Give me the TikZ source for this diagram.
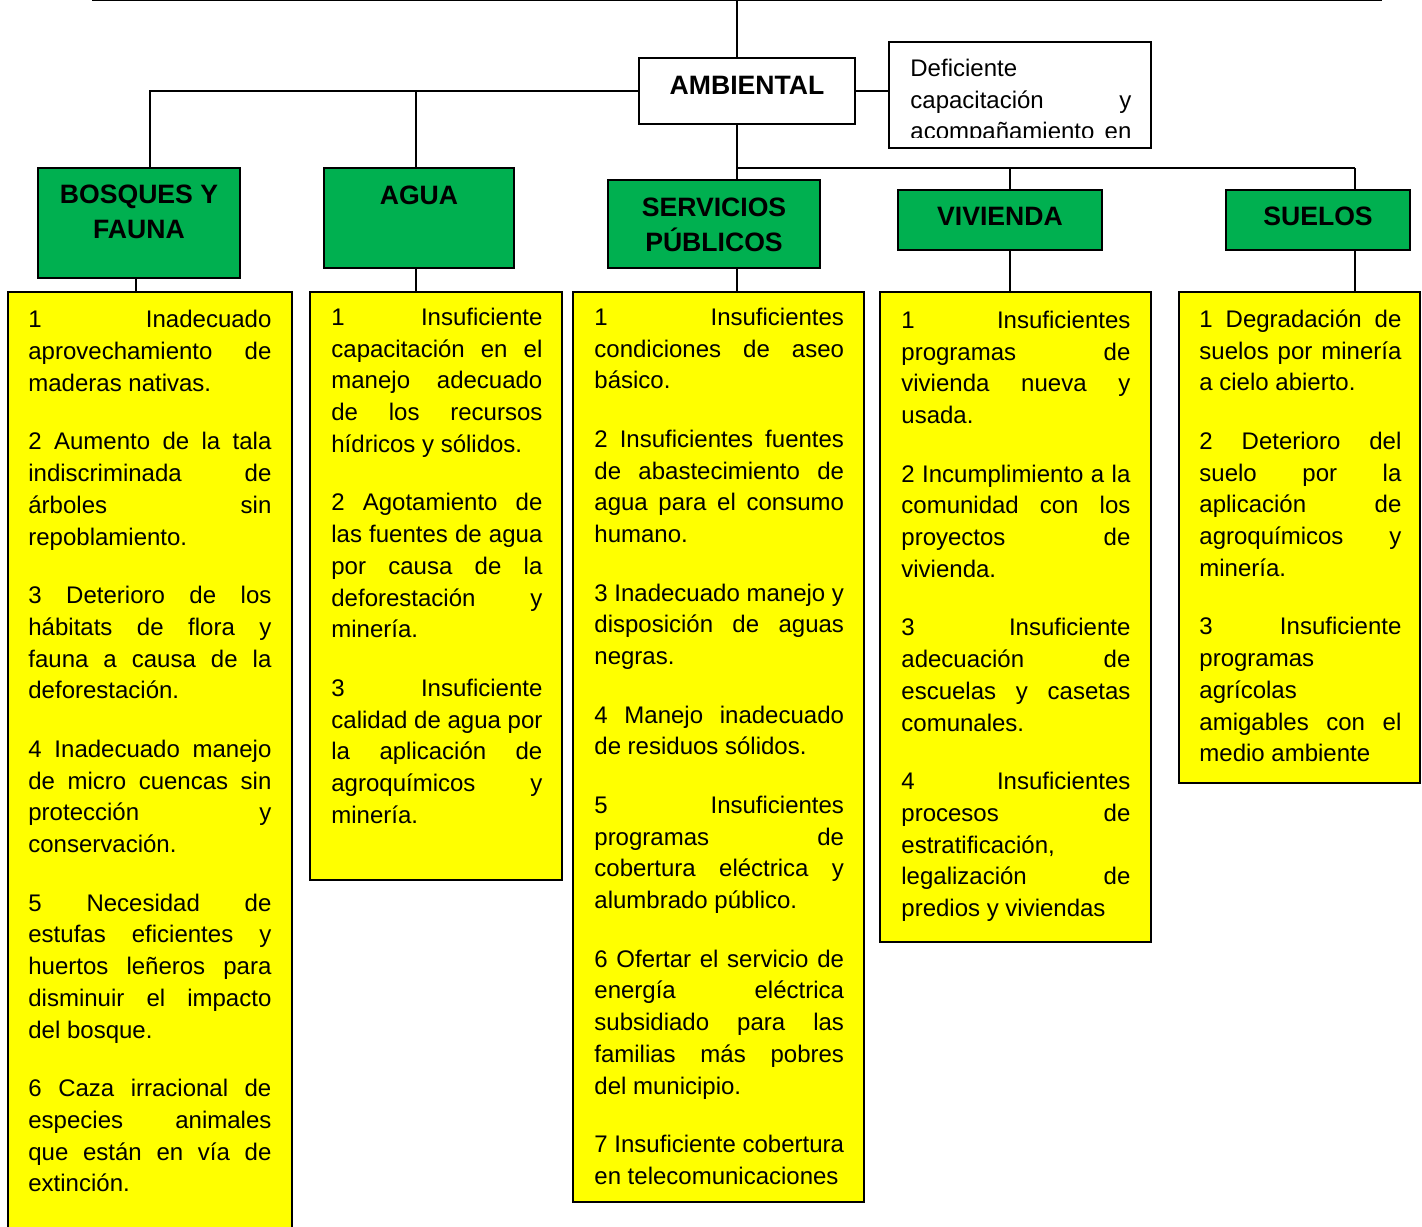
\documentclass[tikz,border=0pt]{standalone}
\usepackage{fontspec}
\setmainfont{Liberation Sans}
\usetikzlibrary{positioning}
\definecolor{verde}{RGB}{0,176,80}
\definecolor{amarillo}{RGB}{255,255,0}
\setlength{\parindent}{0pt}
\tolerance=10000 \hbadness=10000
\hyphenpenalty=10000 \exhyphenpenalty=10000
\begin{document}
\begin{tikzpicture}[x=0.5pt, y=-0.5pt,
	cuadro/.style={draw, line width=1pt, outer sep=0pt, inner sep=0pt, anchor=north west},
	tema/.style={cuadro, fill=verde},
	lista/.style={cuadro, fill=amarillo},
	titulo/.style={inner sep=0pt, align=center, font=\bfseries\fontsize{13.3}{17.5}\selectfont},
	texto/.style={inner sep=0pt, align=justify, font=\fontsize{12}{15.875}\selectfont},
	enlace/.style={line width=0.7pt}]
	\useasboundingbox (0,0) rectangle (1422,1226);

	% cajas
	\node[cuadro, minimum width=108pt, minimum height=33pt] (amb) at (639,58) {};
	\node[cuadro, minimum width=131pt, minimum height=53pt] (def) at (889,42) {};
	\node[tema, minimum width=101pt, minimum height=55pt] (bosq) at (38,168) {};
	\node[tema, minimum width=95pt, minimum height=50pt] (agua) at (324,168) {};
	\node[tema, minimum width=106pt, minimum height=44pt] (serv) at (608,180) {};
	\node[tema, minimum width=102pt, minimum height=30pt] (viv) at (898,190) {};
	\node[tema, minimum width=92pt, minimum height=30pt] (suel) at (1226,190) {};
	\node[lista, minimum width=142pt, minimum height=474pt] (bosqL) at (8,292) {};
	\node[lista, minimum width=126pt, minimum height=294pt] (aguaL) at (310,292) {};
	\node[lista, minimum width=145.5pt, minimum height=455pt] (servL) at (573,292) {};
	\node[lista, minimum width=135.5pt, minimum height=325pt] (vivL) at (880,292) {};
	\node[lista, minimum width=120.5pt, minimum height=245.5pt] (suelL) at (1179,292) {};

	% titulos
	\node[titulo, below=5.9pt of amb.north] (ambT) {\strut AMBIENTAL};
	\node[titulo, below=5.4pt of bosq.north] (bosqT) {\strut BOSQUES Y\\FAUNA};
	\node[titulo, below=5.75pt of agua.north] (aguaT) {\strut AGUA};
	\node[titulo, below=5.75pt of serv.north] (servT) {\strut SERVICIOS\\PÚBLICOS};
	\node[titulo, below=5.25pt of viv.north] (vivT) {\strut VIVIENDA};
	\node[titulo, below=5.25pt of suel.north] (suelT) {\strut SUELOS};

	\begin{scope}
	\clip (def.north west) rectangle ([yshift=5.5pt]def.south east);
	\node[texto, text width=110.5pt, below right=5.9pt and 10.5pt of def.north west] (defX) {\strut Deficiente\linebreak capacitación y\linebreak acompañamiento en\linebreak\mbox{}};
	\end{scope}

	% listas
	\node[texto, text width=121.5pt, below right=6.65pt and 10pt of bosqL.north west] (bosqX) {\strut
		1 Inadecuado\linebreak aprovechamiento de\linebreak maderas nativas.\\[13.375pt]
		2 Aumento de la tala\linebreak indiscriminada de\linebreak árboles sin\linebreak repoblamiento.\\[13.375pt]
		3 Deterioro de los\linebreak hábitats de flora y\linebreak fauna a causa de la\linebreak deforestación.\\[13.375pt]
		4 Inadecuado manejo\linebreak de micro cuencas sin\linebreak protección y\linebreak conservación.\\[13.375pt]
		5 Necesidad de\linebreak estufas eficientes y\linebreak huertos leñeros para\linebreak disminuir el impacto\linebreak del bosque.\\[13.375pt]
		6 Caza irracional de\linebreak especies animales\linebreak que están en vía de\linebreak extinción.};
	\node[texto, text width=105.5pt, below right=5.4pt and 10.5pt of aguaL.north west] (aguaX) {\strut
		1 Insuficiente\linebreak capacitación en el\linebreak manejo adecuado\linebreak de los recursos\linebreak hídricos y sólidos.\\[13.375pt]
		2 Agotamiento de\linebreak las fuentes de agua\linebreak por causa de la\linebreak deforestación y\linebreak minería.\\[13.375pt]
		3 Insuficiente\linebreak calidad de agua por\linebreak la aplicación de\linebreak agroquímicos y\linebreak minería.};
	\node[texto, text width=124.8pt, below right=5.4pt and 10.5pt of servL.north west] (servX) {\strut
		1 Insuficientes\linebreak condiciones de aseo\linebreak básico.\\[13.375pt]
		2 Insuficientes fuentes\linebreak de abastecimiento de\linebreak agua para el consumo\linebreak humano.\\[13.375pt]
		3 Inadecuado manejo y\linebreak disposición de aguas\linebreak negras.\\[13.375pt]
		4 Manejo inadecuado\linebreak de residuos sólidos.\\[13.375pt]
		5 Insuficientes\linebreak programas de\linebreak cobertura eléctrica y\linebreak alumbrado público.\\[13.375pt]
		6 Ofertar el servicio de\linebreak energía eléctrica\linebreak subsidiado para las\linebreak familias más pobres\linebreak del municipio.\\[13.375pt]
		7 Insuficiente cobertura\linebreak en telecomunicaciones};
	\node[texto, text width=114.5pt, below right=6.9pt and 10.5pt of vivL.north west] (vivX) {\strut
		1 Insuficientes\linebreak programas de\linebreak vivienda nueva y\linebreak usada.\\[13.375pt]
		2 Incumplimiento a la\linebreak comunidad con los\linebreak proyectos de\linebreak vivienda.\\[13.375pt]
		3 Insuficiente\linebreak adecuación de\linebreak escuelas y casetas\linebreak comunales.\\[13.375pt]
		4 Insuficientes\linebreak procesos de\linebreak estratificación,\linebreak legalización de\linebreak predios y viviendas};
	\node[texto, text width=101pt, below right=6.4pt and 10pt of suelL.north west] (suelX) {\strut
		1 Degradación de\linebreak suelos por minería\linebreak a cielo abierto.\\[13.375pt]
		2 Deterioro del\linebreak suelo por la\linebreak aplicación de\linebreak agroquímicos y\linebreak minería.\\[13.375pt]
		3 Insuficiente\linebreak programas\linebreak agrícolas\linebreak amigables con el\linebreak medio ambiente};

	% conectores
	\coordinate (izq) at (92,0.75);
	\coordinate (der) at (1382,0.75);
	\coordinate (tope) at (737,0.75);
	\coordinate (cruce) at (0,168);
	\coordinate (ejeF) at (136,0);
	\coordinate (ejeB) at (150,0);
	\coordinate (ejeA) at (416,0);
	\coordinate (ejeV) at (1010,0);
	\coordinate (ejeS) at (1355,0);
	\draw[enlace] (izq) -- (der);
	\draw[enlace] (tope) -- (tope |- amb.north);
	\draw[enlace] (amb.west) -- (amb.west -| ejeB) -- (ejeB |- bosq.north);
	\draw[enlace] (amb.west -| ejeA) -- (ejeA |- agua.north);
	\draw[enlace] (amb.east) -- (def.west |- amb.east);
	\draw[enlace] (tope |- amb.south) -- (tope |- serv.north);
	\draw[enlace] (tope |- cruce) -- (ejeS |- cruce);
	\foreach \eje/\a in {ejeV/viv, ejeS/suel}
		\draw[enlace] (\eje |- cruce) -- (\eje |- \a.north);
	\foreach \eje/\a/\b in {ejeF/bosq/bosqL, ejeA/agua/aguaL, tope/serv/servL, ejeV/viv/vivL, ejeS/suel/suelL}
		\draw[enlace] (\eje |- \a.south) -- (\eje |- \b.north);
\end{tikzpicture}
\end{document}
